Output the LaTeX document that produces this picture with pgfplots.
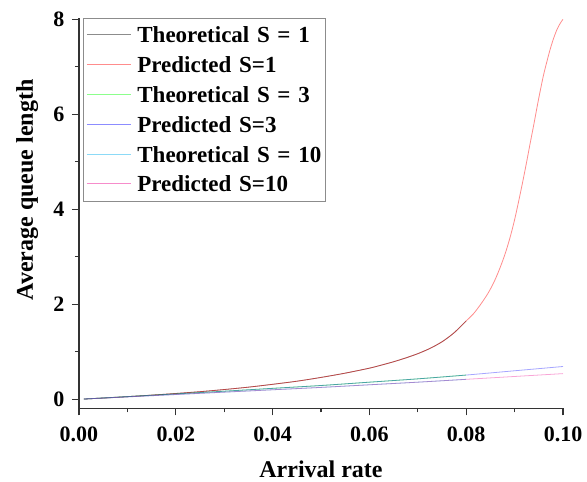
\documentclass[border=0pt]{standalone}
\usepackage{fontspec}
\setmainfont{Liberation Serif}
\usepackage{pgfplots}
\pgfplotsset{compat=1.18}

\begin{document}
\begin{tikzpicture}
\path[use as bounding box] (-79pt,-73.7pt) rectangle (508pt,408.3pt);
\begin{axis}[
  at={(0,0)}, anchor=south west,
  scale only axis, width=484pt, height=390pt,
  xmin=0, xmax=0.1, ymin=-0.19, ymax=8.02,
  axis x line*=bottom, axis y line*=left,
  axis line style={line width=1.2pt, black!80},
  xtick={0,0.02,0.04,0.06,0.08,0.1},
  ytick={0,2,4,6,8},
  minor x tick num=1, minor y tick num=1,
  tick align=outside,
  major tick length=7pt, minor tick length=4pt,
  every tick/.style={line width=1.1pt, black!80},
  /pgf/number format/assume math mode=true,
  xticklabel style={/pgf/number format/fixed, /pgf/number format/fixed zerofill,
    /pgf/number format/precision=2, yshift=-8pt},
  yticklabel style={xshift=-4pt},
  scaled x ticks=false,
  tick label style={font=\bfseries\fontsize{22}{22}\selectfont},
  xlabel={Arrival rate}, ylabel={Average queue length},
  label style={font=\bfseries\fontsize{24}{24}\selectfont},
  xlabel style={at={(axis description cs:0.5,-0.157)}, anchor=center},
  ylabel style={at={(axis description cs:-0.107,0.56)}, anchor=center},
  legend cell align=left,
  legend image code/.code={\draw[#1, draw opacity=0.45, line width=1.1pt] (0pt,0.5pt) -- (44pt,0.5pt);},
  legend style={
    at={(axis description cs:0.0076,1)}, anchor=north west,
    draw=black!45, line width=0.6pt,
    inner xsep=3.3pt, inner ysep=4pt,
    row sep=4.1pt,
    font=\bfseries\fontsize{23}{23}\selectfont,
    nodes={inner sep=1pt, text height=19.3pt, text depth=4.4pt, text width=184pt, align=left},
    /tikz/every odd column/.append style={column sep=5pt},
  },
]
% S = 1
\addplot[draw=black, draw opacity=0.5, line width=0.8pt, smooth] coordinates {
  (0.001,0.005) (0.005,0.026) (0.010,0.055) (0.015,0.087) (0.020,0.122)
  (0.025,0.160) (0.030,0.205) (0.035,0.255) (0.040,0.315) (0.045,0.380)
  (0.050,0.460) (0.055,0.550) (0.060,0.655) (0.0625,0.720) (0.065,0.790)
  (0.0675,0.870) (0.070,0.960) (0.0725,1.070) (0.075,1.210) (0.0775,1.400)
  (0.080,1.650)
};
\addlegendentry{Theoretical S = 1}
\addplot[draw=red, draw opacity=0.45, line width=0.8pt, smooth] coordinates {
  (0.001,0.005) (0.005,0.026) (0.010,0.055) (0.015,0.087) (0.020,0.122)
  (0.025,0.160) (0.030,0.205) (0.035,0.255) (0.040,0.315) (0.045,0.380)
  (0.050,0.460) (0.055,0.550) (0.060,0.655) (0.0625,0.720) (0.065,0.790)
  (0.0675,0.870) (0.070,0.960) (0.0725,1.070) (0.075,1.210) (0.0775,1.400)
  (0.080,1.650)
  (0.0815,1.800) (0.0830,2.000) (0.0845,2.230) (0.0858,2.480) (0.0870,2.770)
  (0.0881,3.080) (0.0891,3.420) (0.0900,3.780) (0.0908,4.150) (0.0916,4.540)
  (0.0924,4.950) (0.0932,5.380) (0.0940,5.800) (0.0949,6.290) (0.0959,6.790)
  (0.0966,7.080) (0.0973,7.350) (0.0980,7.580) (0.0987,7.770) (0.0994,7.910)
  (0.1000,8.000)
};
\addlegendentry{Predicted S=1}
% S = 3
\addplot[draw=green, draw opacity=0.55, line width=0.8pt, smooth] coordinates {
  (0.001,0.005) (0.010,0.056) (0.020,0.113) (0.030,0.170) (0.040,0.230)
  (0.050,0.290) (0.060,0.360) (0.070,0.430) (0.080,0.510)
};
\addlegendentry{Theoretical S = 3}
\addplot[draw=blue, draw opacity=0.35, line width=0.8pt, smooth] coordinates {
  (0.001,0.005) (0.010,0.056) (0.020,0.113) (0.030,0.170) (0.040,0.230)
  (0.050,0.290) (0.060,0.360) (0.070,0.430) (0.080,0.510) (0.090,0.600)
  (0.100,0.690)
};
\addlegendentry{Predicted S=3}
% S = 10
\addplot[draw=cyan, draw opacity=0.5, line width=0.8pt, smooth] coordinates {
  (0.001,0.005) (0.010,0.050) (0.020,0.100) (0.030,0.150) (0.040,0.200)
  (0.050,0.250) (0.060,0.305) (0.070,0.360) (0.080,0.420)
};
\addlegendentry{Theoretical S = 10}
\addplot[draw=magenta, draw opacity=0.35, line width=0.8pt, smooth] coordinates {
  (0.001,0.005) (0.010,0.050) (0.020,0.100) (0.030,0.150) (0.040,0.200)
  (0.050,0.250) (0.060,0.305) (0.070,0.360) (0.080,0.420) (0.090,0.480)
  (0.100,0.540)
};
\addlegendentry{Predicted S=10}
\end{axis}
\end{tikzpicture}
\end{document}
